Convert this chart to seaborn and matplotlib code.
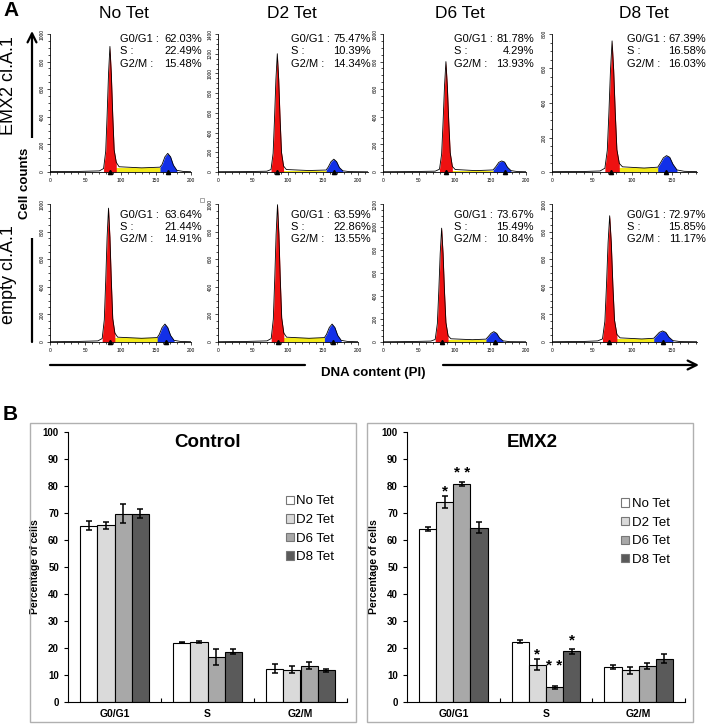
import numpy as np
import pandas as pd
import seaborn as sns
import matplotlib.pyplot as plt
from matplotlib.patches import Rectangle, Patch, FancyArrowPatch
from matplotlib.lines import Line2D
from matplotlib.ticker import MultipleLocator

sns.set_theme(style="ticks", rc={"axes.edgecolor": "black", "xtick.color": "black",
                                 "ytick.color": "black", "text.color": "black",
                                 "axes.labelcolor": "black"})
plt.rcParams["font.family"] = ["Liberation Sans", "DejaVu Sans"]

# ---------------- Panel A : DNA content histograms ----------------
tet_labels = ["No Tet", "D2 Tet", "D6 Tet", "D8 Tet"]
row_labels = ["EMX2 cl.A.1", "empty cl.A.1"]

# histogram outlines (channel, cell count)
emx2_notet_x = [0, 40, 70, 76, 79, 81, 83, 85, 87, 89, 91, 94, 98, 130, 156, 159, 163, 167, 171, 175, 180, 189, 200]
emx2_notet_y = [3, 4, 8, 25, 150, 410, 710, 910, 710, 410, 160, 70, 38, 30, 35, 55, 110, 135, 110, 50, 12, 4, 2]
emx2_d2_x = [0, 40, 70, 76, 79, 81, 83, 85, 87, 89, 91, 94, 98, 130, 155, 158, 162, 166, 170, 174, 179, 188, 215]
emx2_d2_y = [3, 4, 8, 25, 190, 540, 940, 1200, 940, 540, 200, 60, 25, 15, 20, 50, 105, 130, 105, 45, 12, 4, 2]
emx2_d6_x = [0, 40, 73, 79, 82, 84, 86, 88, 90, 92, 94, 97, 101, 130, 154, 158, 162, 166, 170, 174, 179, 188, 200]
emx2_d6_y = [2, 3, 6, 20, 130, 360, 620, 800, 620, 360, 140, 40, 18, 10, 15, 40, 70, 80, 72, 35, 10, 3, 2]
emx2_d8_x = [0, 40, 60, 66, 69, 71, 73, 75, 77, 79, 81, 84, 88, 115, 132, 135, 139, 143, 147, 151, 156, 165, 181]
emx2_d8_y = [2, 3, 6, 22, 125, 340, 590, 760, 590, 340, 130, 50, 30, 23, 28, 50, 82, 95, 85, 45, 12, 4, 2]

empty_notet_x = [0, 40, 68, 74, 77, 79, 81, 83, 85, 87, 89, 92, 96, 130, 152, 155, 159, 163, 167, 171, 176, 185, 200]
empty_notet_y = [2, 4, 8, 25, 160, 440, 760, 970, 760, 440, 170, 65, 35, 27, 32, 55, 105, 130, 105, 48, 12, 4, 2]
empty_d2_x = [0, 40, 70, 76, 79, 81, 83, 85, 87, 89, 91, 94, 98, 130, 152, 155, 159, 163, 167, 171, 176, 185, 200]
empty_d2_y = [2, 4, 8, 25, 165, 450, 780, 995, 780, 450, 175, 65, 35, 27, 32, 55, 105, 130, 105, 48, 12, 4, 2]
empty_d6_x = [0, 40, 67, 73, 76, 78, 80, 82, 84, 86, 88, 91, 95, 125, 144, 147, 151, 155, 159, 163, 168, 177, 200]
empty_d6_y = [2, 4, 8, 22, 160, 440, 770, 990, 770, 440, 170, 55, 28, 20, 25, 45, 75, 90, 75, 35, 10, 3, 2]
empty_d8_x = [0, 40, 57, 63, 66, 68, 70, 72, 74, 76, 78, 81, 85, 112, 127, 130, 134, 138, 142, 146, 151, 160, 181]
empty_d8_y = [2, 4, 8, 22, 150, 410, 720, 915, 720, 410, 160, 55, 30, 22, 27, 45, 70, 80, 70, 35, 10, 3, 2]

emx2_ymax = [1000, 1400, 1000, 800]
empty_ymax = [1000, 1000, 1200, 1000]
emx2_s_level = [27, 15, 9, 22]
empty_s_level = [26, 26, 19, 21]
emx2_g1_mark = [85, 85, 88, 74]
emx2_g2_mark = [168, 166, 171, 142]
empty_g1_mark = [85, 85, 82, 71]
empty_g2_mark = [164, 164, 157, 139]

emx2_g0g1 = ["62.03%", "75.47%", "81.78%", "67.39%"]
emx2_s = ["22.49%", "10.39%", "4.29%", "16.58%"]
emx2_g2m = ["15.48%", "14.34%", "13.93%", "16.03%"]
empty_g0g1 = ["63.64%", "63.59%", "73.67%", "72.97%"]
empty_s = ["21.44%", "22.86%", "15.49%", "15.85%"]
empty_g2m = ["14.91%", "13.55%", "10.84%", "11.17%"]

# ---------------- Panel B : cell cycle distribution ----------------
phases = ["G0/G1", "S", "G2/M"]
conditions = ["No Tet", "D2 Tet", "D6 Tet", "D8 Tet"]
bar_colors = ["#ffffff", "#dadada", "#a8a8a8", "#5a5a5a"]

ctrl_notet = [65.3, 22.0, 12.4]
ctrl_d2 = [65.4, 22.2, 12.0]
ctrl_d6 = [69.7, 16.6, 13.5]
ctrl_d8 = [69.8, 18.6, 11.7]
ctrl_notet_err = [1.6, 0.3, 1.7]
ctrl_d2_err = [1.4, 0.3, 1.3]
ctrl_d6_err = [3.5, 2.9, 1.4]
ctrl_d8_err = [1.5, 1.0, 0.5]

emx2_notet = [64.2, 22.4, 12.9]
emx2_d2 = [74.1, 13.8, 11.7]
emx2_d6 = [80.8, 5.5, 13.2]
emx2_d8 = [64.6, 18.8, 16.1]
emx2_notet_err = [0.8, 0.7, 0.8]
emx2_d2_err = [2.2, 2.0, 1.3]
emx2_d6_err = [0.7, 0.5, 1.1]
emx2_d8_err = [1.9, 1.0, 1.6]

# significance marks: (phase, condition, label, height)
emx2_stars = [(0, 1, "*", 79.6), (0, 2, "* *", 86.5), (1, 1, "*", 19.3),
              (1, 2, "* *", 15.0), (1, 3, "*", 24.6)]

W, H = 708, 724
fig = plt.figure(figsize=(W / 100, H / 100), dpi=100)


def px_axes(left, top, right, bottom):
    return fig.add_axes([left / W, 1 - bottom / H, (right - left) / W, (bottom - top) / H])


def fx(x):
    return x / W


def fy(y):
    return 1 - y / H


def draw_hist(ax, x, y, s_level, g1, g2, xmax, ymax):
    ax.fill_between([g1, g2], [s_level, s_level], color="#f3ea1a", lw=0)
    ax.fill_between(x[3:12], y[3:12], color="#ee1111", lw=0)
    ax.fill_between(x[14:21], y[14:21], color="#1230e8", lw=0)
    sns.lineplot(x=x, y=y, color="black", lw=0.6, ax=ax)
    ax.plot([g1, g2], [0, 0], ls="none", marker="^", ms=3, color="black", clip_on=False)
    ax.set_xlim(0, xmax)
    ax.set_ylim(0, ymax)
    ax.xaxis.set_major_locator(MultipleLocator(50))
    ax.xaxis.set_minor_locator(MultipleLocator(10))
    ax.yaxis.set_major_locator(MultipleLocator(200))
    ax.yaxis.set_minor_locator(MultipleLocator(50))
    ax.tick_params(labelsize=3.5, length=2.5, width=0.5, pad=1.5)
    ax.tick_params(which="minor", length=1.5, width=0.5)
    plt.setp(ax.get_yticklabels(), rotation=90, va="center")
    ax.set_xlabel("")
    ax.set_ylabel("")
    ax.set_facecolor("none")
    sns.despine(ax=ax)
    for sp in ("left", "bottom"):
        ax.spines[sp].set_linewidth(0.6)


row_tops = [34, 204]
row_bottoms = [172, 342]
col_left = [50, 218, 383, 552]
row_rights = [[191, 368, 526, 697], [191, 358, 526, 697]]
txt_left = [120, 291, 454, 627]
txt_right = [202, 371, 534, 706]
txt_rows = [[39, 51.5, 64], [215, 227, 239]]

rows = [
    ([emx2_notet_x, emx2_d2_x, emx2_d6_x, emx2_d8_x],
     [emx2_notet_y, emx2_d2_y, emx2_d6_y, emx2_d8_y],
     emx2_s_level, emx2_g1_mark, emx2_g2_mark, emx2_ymax,
     [emx2_g0g1, emx2_s, emx2_g2m]),
    ([empty_notet_x, empty_d2_x, empty_d6_x, empty_d8_x],
     [empty_notet_y, empty_d2_y, empty_d6_y, empty_d8_y],
     empty_s_level, empty_g1_mark, empty_g2_mark, empty_ymax,
     [empty_g0g1, empty_s, empty_g2m]),
]

annotations = []
for r, (xs, ys, sl, g1s, g2s, ymaxs, pcts) in enumerate(rows):
    for c in range(4):
        ax = px_axes(col_left[c], row_tops[r], row_rights[r][c], row_bottoms[r])
        draw_hist(ax, xs[c], ys[c], sl[c], g1s[c], g2s[c], xs[c][-1], ymaxs[c])
        for k, lab in enumerate(["G0/G1 :", "S :", "G2/M :"]):
            annotations.append((txt_left[c], txt_right[c], txt_rows[r][k], lab, pcts[k][c]))


def draw_bars(ax, means, errs, title, title_x, leg_xy):
    df = pd.DataFrame({"phase": phases * 4,
                       "cond": np.repeat(conditions, 3),
                       "pct": np.concatenate(means)})
    sns.barplot(data=df, x="phase", y="pct", hue="cond", hue_order=conditions,
                palette=bar_colors, saturation=1, edgecolor="black", linewidth=0.8,
                width=0.74, errorbar=None, legend=False, ax=ax)
    centers = []
    for cont, m, e in zip(ax.containers, means, errs):
        xs = [b.get_x() + b.get_width() / 2 for b in cont]
        centers.append(xs)
        ax.errorbar(xs, m, yerr=e, fmt="none", ecolor="black", elinewidth=1.1,
                    capsize=2, capthick=1.1)
    ax.set_xlim(-0.5, 2.5)
    ax.set_ylim(0, 100)
    ax.yaxis.set_major_locator(MultipleLocator(10))
    ax.set_xticks([0.5, 1.5, 2.5], minor=True)
    ax.tick_params(axis="x", which="major", length=0, labelsize=7.5, pad=5)
    ax.tick_params(axis="x", which="minor", length=3, direction="in", width=0.8)
    ax.tick_params(axis="y", length=3, width=0.8, labelsize=7)
    for lab in ax.get_xticklabels() + ax.get_yticklabels():
        lab.set_fontweight("bold")
    ax.set_xlabel("")
    ax.set_ylabel("Percentage of cells", fontsize=7.5, fontweight="bold", labelpad=2)
    sns.despine(ax=ax)
    for sp in ("left", "bottom"):
        ax.spines[sp].set_linewidth(0.8)
    ax.text(title_x, 0.96, title, transform=ax.transAxes, ha="center", va="center",
            fontsize=13.5, fontweight="bold")
    handles = [Patch(facecolor=col, edgecolor="#777777", lw=0.8) for col in bar_colors]
    ax.legend(handles, conditions, loc="upper left", bbox_to_anchor=leg_xy, frameon=False,
              fontsize=9.5, handlelength=0.6, handleheight=0.6, handletextpad=0.2,
              labelspacing=0.5, borderpad=0, borderaxespad=0)
    return centers


ax_c = px_axes(68, 432, 347, 702)
draw_bars(ax_c, [ctrl_notet, ctrl_d2, ctrl_d6, ctrl_d8],
          [ctrl_notet_err, ctrl_d2_err, ctrl_d6_err, ctrl_d8_err],
          "Control", 0.5, (0.78, 0.765))

ax_e = px_axes(407, 432, 685, 702)
cen = draw_bars(ax_e, [emx2_notet, emx2_d2, emx2_d6, emx2_d8],
                [emx2_notet_err, emx2_d2_err, emx2_d6_err, emx2_d8_err],
                "EMX2", 0.45, (0.77, 0.755))
for p, c, lab, yv in emx2_stars:
    ax_e.annotate(lab, (cen[c][p], yv), xytext=(0, -6.3), textcoords="offset points",
                  ha="center", va="baseline", fontsize=11, fontweight="bold")

for left, right in [(30, 356), (367, 693)]:
    fig.add_artist(Rectangle((fx(left), fy(722)), (right - left) / W, (722 - 423) / H,
                             transform=fig.transFigure, fill=False, ec="#b0b0b0", lw=1))


# ---------------- axis arrows (figure pixel positions) ----------------
def fig_arrow(x0, y0, x1, y1, style):
    fig.add_artist(FancyArrowPatch((fx(x0), fy(y0)), (fx(x1), fy(y1)),
                                   transform=fig.transFigure, arrowstyle=style, lw=1.6,
                                   color="black", mutation_scale=16, shrinkA=0, shrinkB=0,
                                   zorder=1))


# one long vertical arrow, broken behind the "Cell counts" label
fig_arrow(32, 342, 32, 31, "->")
fig.add_artist(Rectangle((fx(26), fy(238)), 12 / W, (238 - 138) / H,
                         transform=fig.transFigure, fc="white", ec="none", zorder=1.5))
fig_arrow(50, 365, 305, 365, "-")
fig_arrow(443, 365, 699, 365, "->")
fig.add_artist(Line2D([fx(202)], [fy(200)], transform=fig.transFigure, marker="s", ms=3.5,
                      mfc="none", mec="#999999", mew=0.6, ls="none"))

# ---------------- labels ----------------
fig.text(fx(3), fy(10), "A", fontsize=15, fontweight="bold", ha="left", va="center")
fig.text(fx(3), fy(415), "B", fontsize=15, fontweight="bold", ha="left", va="center")
for xc, lab in zip([124, 292, 460, 644], tet_labels):
    fig.text(fx(xc), fy(13), lab, fontsize=12.5, ha="center", va="center")
fig.text(fx(9), fy(86), row_labels[0], fontsize=13, rotation=90, ha="center", va="center")
fig.text(fx(9), fy(275), row_labels[1], fontsize=13, rotation=90, ha="center", va="center")
fig.text(fx(25), fy(183), "Cell counts", fontsize=9.5, fontweight="bold", rotation=90,
         ha="center", va="center")
fig.text(fx(373), fy(373), "DNA content (PI)", fontsize=9.5, fontweight="bold",
         ha="center", va="center")

for xl, xr, yy, lab, val in annotations:
    fig.text(fx(xl), fy(yy), lab, fontsize=8, ha="left", va="center")
    fig.text(fx(xr), fy(yy), val, fontsize=8, ha="right", va="center")

fig.savefig("out.png", dpi=100)
